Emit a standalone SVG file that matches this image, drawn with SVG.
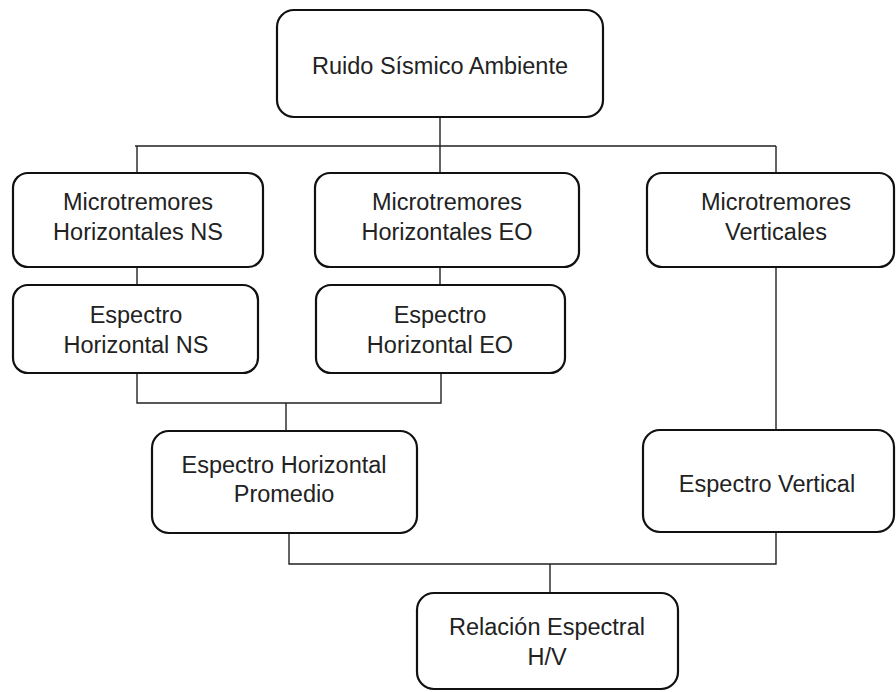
<svg xmlns="http://www.w3.org/2000/svg" width="896" height="692" viewBox="0 0 896 692">
<style>
.box{fill:#fff;stroke:#111;stroke-width:2.2}
.lbl{font-family:"Liberation Sans",Arial,sans-serif;font-size:23.5px;fill:#222;text-anchor:middle}
.con{fill:none;stroke:#222;stroke-width:1.4}
</style>
<rect width="896" height="692" fill="#fff"/>
<g id="connectors">
<path class="con" d="M440 117V173M135 146H776M137 146V173M776 146V173"/>
<path class="con" d="M137 267V285M440 267V285"/>
<path class="con" d="M137 373V403H441V373M286 403V431"/>
<path class="con" d="M776 267V430"/>
<path class="con" d="M289 533V564H776V532M550 564V593"/>
</g>
<g id="ruido">
<rect class="box" x="277" y="10" width="326" height="107" rx="17"/>
<text class="lbl" x="440" y="74">Ruido Sísmico Ambiente</text>
</g>
<g id="micro-ns">
<rect class="box" x="13" y="173" width="250" height="94" rx="15"/>
<text class="lbl" x="138" y="210">Microtremores</text>
<text class="lbl" x="138" y="240">Horizontales NS</text>
</g>
<g id="micro-eo">
<rect class="box" x="315" y="173" width="264" height="94" rx="15"/>
<text class="lbl" x="447" y="210">Microtremores</text>
<text class="lbl" x="447" y="240">Horizontales EO</text>
</g>
<g id="micro-v">
<rect class="box" x="647" y="173" width="247" height="94" rx="15"/>
<text class="lbl" x="776" y="210">Microtremores</text>
<text class="lbl" x="776" y="240">Verticales</text>
</g>
<g id="esp-ns">
<rect class="box" x="13" y="285" width="245" height="88" rx="15"/>
<text class="lbl" x="136" y="323">Espectro</text>
<text class="lbl" x="136" y="353">Horizontal NS</text>
</g>
<g id="esp-eo">
<rect class="box" x="316" y="285" width="249" height="88" rx="15"/>
<text class="lbl" x="440" y="323">Espectro</text>
<text class="lbl" x="440" y="353">Horizontal EO</text>
</g>
<g id="esp-prom">
<rect class="box" x="152" y="431" width="265" height="102" rx="17"/>
<text class="lbl" x="284" y="473">Espectro Horizontal</text>
<text class="lbl" x="284" y="502">Promedio</text>
</g>
<g id="esp-v">
<rect class="box" x="643" y="430" width="251" height="102" rx="17"/>
<text class="lbl" x="767" y="492">Espectro Vertical</text>
</g>
<g id="hv">
<rect class="box" x="417" y="593" width="261" height="96" rx="17"/>
<text class="lbl" x="547" y="635">Relación Espectral</text>
<text class="lbl" x="547" y="665">H/V</text>
</g>
</svg>
